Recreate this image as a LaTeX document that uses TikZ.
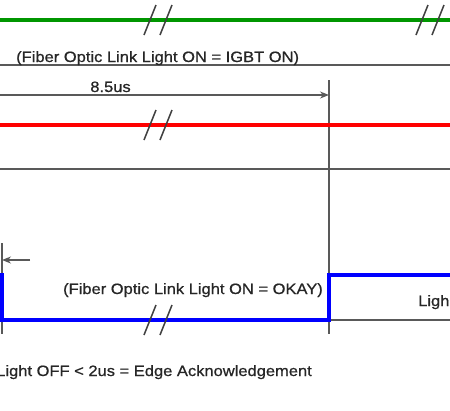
\documentclass[tikz,border=0pt]{standalone}
\usepackage{fontspec}
\setmainfont[FakeStretch=1.1,FakeBold=0.8]{Liberation Sans}
\usetikzlibrary{arrows.meta}
\definecolor{sgreen}{RGB}{0,150,0}
\definecolor{sred}{RGB}{255,0,0}
\definecolor{sblue}{RGB}{0,0,255}

\begin{document}
\begin{tikzpicture}[x=1pt,y=-1pt,
        lbl/.style={inner sep=0pt,text=black!85,font=\fontsize{15}{18}\selectfont},
        ref/.style={draw=black!65,line width=1.4pt},
        sig/.style={line width=3.2pt},
        brk/.style={draw=black!75,line width=1.5pt},
        tip/.style={-{Stealth[length=9pt,width=7pt]}}]
        \useasboundingbox (0,0) rectangle (450,410);
        \clip (0,0) rectangle (450,410);

        \draw[ref] (0,65) -- (450,65);
        \draw[ref] (0,169) -- (450,169);
        \draw[ref] (0,320) -- (450,320);

        \coordinate (edgetop) at (329,80);
        \coordinate (edgebot) at (329,334);
        \coordinate (dimend) at (329,95);
        \coordinate (dimstart) at (-10,95);
        \coordinate (acktop) at (2,243);
        \coordinate (ackbot) at (2,334);
        \coordinate (ackend) at (2,260);
        \coordinate (ackstart) at (30,260);
        \draw[ref] (edgetop) -- (edgebot);
        \draw[ref] (acktop) -- (ackbot);
        \draw[ref,tip] (dimstart) -- (dimend);
        \draw[ref,tip] (ackstart) -- (ackend);

        \draw[sig,sgreen] (0,20) -- (450,20);
        \draw[sig,sred] (0,125) -- (450,125);
        \draw[sig,sblue] (-5,275) -- (2,275) -- (2,320) -- (329,320) -- (329,275) -- (455,275);

        \foreach \cx/\cy in {158/20,430/20,158/125,158/320}
            {\draw[brk] (\cx-14,\cy+15) -- (\cx-2,\cy-15);
             \draw[brk] (\cx+2,\cy+15) -- (\cx+14,\cy-15);}

        \node[lbl,anchor=base west] (igbt) at (16,62) {(Fiber Optic Link Light ON = IGBT ON)};
        \node[lbl,anchor=base] (dim) at (110.5,92) {8.5us};
        \node[lbl,anchor=base east] (okay) at (323,294) {(Fiber Optic Link Light ON = OKAY)};
        \node[lbl,anchor=base west] (ligh) at (418,306) {Ligh};
        \node[lbl,anchor=base east] (ack) at (312,376) {Light OFF < 2us = Edge Acknowledgement};
    \end{tikzpicture}
\end{document}
